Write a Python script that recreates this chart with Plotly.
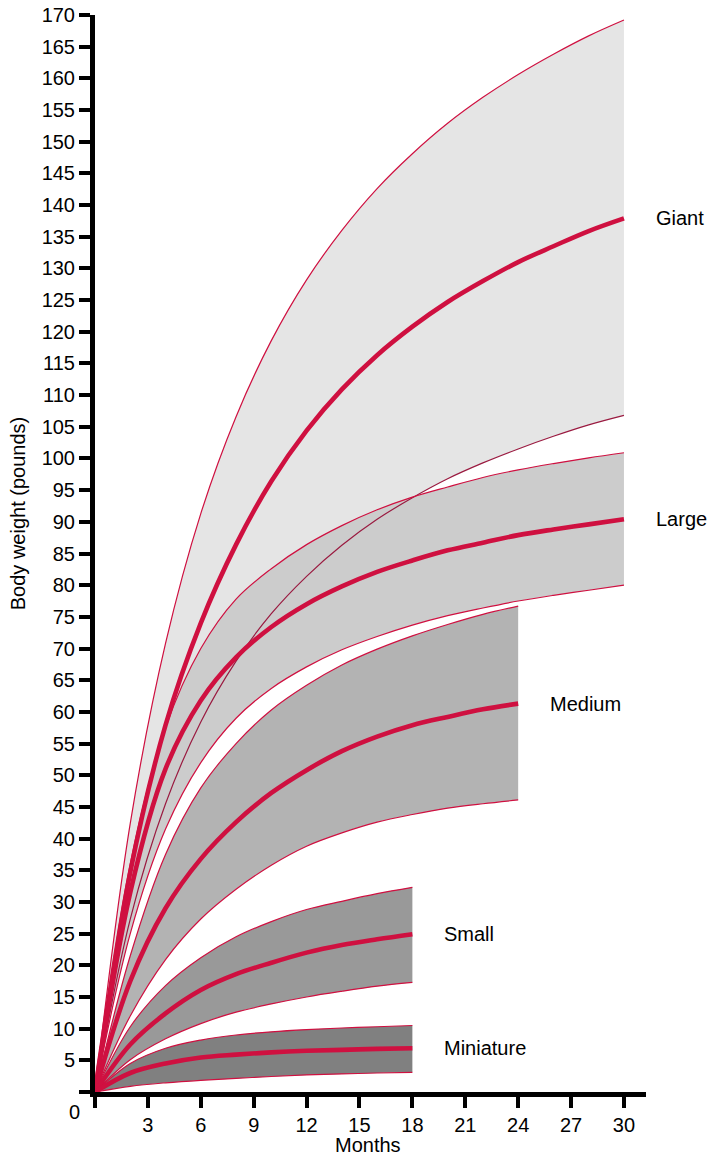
import plotly.graph_objects as go

# ---------------- data ----------------
months_30 = [0, 2, 4, 6, 8, 10, 12, 14, 16, 18, 20, 22, 24, 26, 28, 30]
months_24 = [0, 2, 4, 6, 8, 10, 12, 14, 16, 18, 20, 22, 24]
months_18 = [0, 2, 4, 6, 8, 10, 12, 14, 16, 18]

giant_upper = [0, 42.4, 70.8, 91.3, 106.6, 118.6, 128.2, 136.0, 142.6, 148.1, 152.9, 157.0, 160.6, 163.8, 166.7, 169.2]
giant_median = [0, 34.7, 57.9, 74.0, 86.4, 96.4, 104.4, 110.9, 116.3, 120.8, 124.7, 128.0, 131.0, 133.5, 135.9, 137.9]
giant_lower = [0, 27.3, 45.5, 58.4, 68.0, 75.5, 81.4, 86.3, 90.4, 93.8, 96.8, 99.3, 101.5, 103.5, 105.3, 106.8]

large_upper = [0, 36, 57.5, 70, 77.8, 82.6, 86.4, 89.4, 91.9, 93.9, 95.5, 97.0, 98.2, 99.2, 100.1, 100.9]
large_median = [0, 31.5, 51, 61.8, 68.6, 73.4, 77.0, 79.8, 82.1, 83.9, 85.5, 86.7, 87.9, 88.8, 89.6, 90.4]
large_lower = [0, 25, 41.5, 52, 59, 63.7, 67.1, 69.8, 71.9, 73.7, 75.2, 76.4, 77.5, 78.4, 79.2, 80.0]

medium_upper = [0, 21.5, 37.5, 48, 55, 60.3, 64.2, 67.4, 69.9, 72.0, 73.8, 75.4, 76.7]
medium_median = [0, 17.5, 29, 36.8, 42.6, 47.2, 50.8, 53.8, 56.1, 57.9, 59.2, 60.4, 61.3]
medium_lower = [0, 12, 20.9, 27.3, 32.0, 35.8, 38.8, 40.9, 42.6, 43.8, 44.8, 45.5, 46.1]

small_upper = [0, 10.3, 16.8, 21.2, 24.5, 26.9, 28.8, 30.1, 31.3, 32.3]
small_median = [0, 7.5, 12.4, 16.1, 18.6, 20.4, 22.0, 23.2, 24.1, 24.9]
small_lower = [0, 5.1, 8.4, 10.8, 12.6, 13.9, 15.0, 15.9, 16.7, 17.3]

mini_upper = [0, 4.5, 6.9, 8.2, 9.0, 9.5, 9.85, 10.1, 10.3, 10.5]
mini_median = [0, 3.0, 4.5, 5.45, 5.9, 6.25, 6.5, 6.65, 6.8, 6.9]
mini_lower = [0, 0.9, 1.45, 1.85, 2.15, 2.45, 2.7, 2.85, 3.0, 3.1]

band_names = ["Giant", "Large", "Medium", "Small", "Miniature"]

x_ticks = [0, 3, 6, 9, 12, 15, 18, 21, 24, 27, 30]
x_ticktext = ["", "3", "6", "9", "12", "15", "18", "21", "24", "27", "30"]
y_ticks = list(range(0, 171, 5))
y_ticktext = [""] + [str(v) for v in range(5, 171, 5)]

# ---------------- styling ----------------
RED = "#cf1040"
DARKRED = "#9a1a40"
FONT = "Liberation Sans, Arial, Helvetica, sans-serif"

bands = [
    (months_30, giant_upper, giant_median, giant_lower, "#e5e5e5"),
    (months_30, large_upper, large_median, large_lower, "#cccccc"),
    (months_24, medium_upper, medium_median, medium_lower, "#b3b3b3"),
    (months_18, small_upper, small_median, small_lower, "#999999"),
    (months_18, mini_upper, mini_median, mini_lower, "#808080"),
]

fig = go.Figure()

# fills first
for xs, up, med, lo, col in bands:
    fig.add_trace(go.Scatter(x=xs, y=lo, mode="lines", line=dict(width=0, shape="spline"),
                             hoverinfo="skip", showlegend=False))
    fig.add_trace(go.Scatter(x=xs, y=up, mode="lines", line=dict(width=0, shape="spline"),
                             fill="tonexty", fillcolor=col, hoverinfo="skip", showlegend=False))

# boundary lines
for i, (xs, up, med, lo, col) in enumerate(bands):
    fig.add_trace(go.Scatter(x=xs, y=up, mode="lines",
                             line=dict(color=RED, width=1.2, shape="spline"), showlegend=False))
    lc = DARKRED if i == 0 else RED
    fig.add_trace(go.Scatter(x=xs, y=lo, mode="lines",
                             line=dict(color=lc, width=1.2, shape="spline"), showlegend=False))

# median lines
for xs, up, med, lo, col in bands:
    fig.add_trace(go.Scatter(x=xs, y=med, mode="lines",
                             line=dict(color=RED, width=4.6, shape="spline"), showlegend=False))

# band labels
for name, (xs, up, med, lo, col) in zip(band_names, bands):
    fig.add_annotation(x=xs[-1], y=med[-1], text=name, showarrow=False, xanchor="left",
                       xshift=30, font=dict(size=20, color="black", family=FONT))

# axis titles and origin label (paper coordinates so they are not hidden)
fig.add_annotation(xref="paper", yref="paper", x=0.4955, y=-0.0495, text="Months",
                   xanchor="center", yanchor="middle",
                   showarrow=False, font=dict(size=20, color="black", family=FONT))
fig.add_annotation(xref="paper", x=(18 - 95) / 551, y=91.2, text="Body weight (pounds)",
                   xanchor="center", yanchor="middle",
                   textangle=-90, showarrow=False, font=dict(size=20, color="black", family=FONT))
fig.add_annotation(xref="paper", yref="paper", x=-0.0381, y=-0.0189, text="0",
                   xanchor="center", yanchor="middle",
                   showarrow=False, font=dict(size=20, color="black", family=FONT))

fig.update_xaxes(range=[0, 31.25], tickvals=x_ticks, ticktext=x_ticktext,
                 showline=True, linecolor="black", linewidth=5,
                 ticks="outside", ticklen=11, tickwidth=4, tickcolor="black",
                 showgrid=False, zeroline=False, ticklabeloverflow="allow",
                 tickfont=dict(size=20, color="black", family=FONT))
fig.update_yaxes(range=[0, 170], tickvals=y_ticks, ticktext=y_ticktext,
                 showline=True, linecolor="black", linewidth=5,
                 ticks="outside", ticklen=11, tickwidth=4, tickcolor="black",
                 showgrid=False, zeroline=False, ticklabeloverflow="allow",
                 tickfont=dict(size=20, color="black", family=FONT))

fig.update_layout(width=712, height=1159,
                  margin=dict(l=95, r=66, t=15, b=67, autoexpand=False),
                  plot_bgcolor="white", paper_bgcolor="white", showlegend=False,
                  font=dict(family=FONT, color="black"))

# remove the default 8px page margin so the figure fills the window exactly
fig.write_html("out.html", config={"displayModeBar": False},
               post_script="document.body.style.margin='0';document.body.style.padding='0';")
